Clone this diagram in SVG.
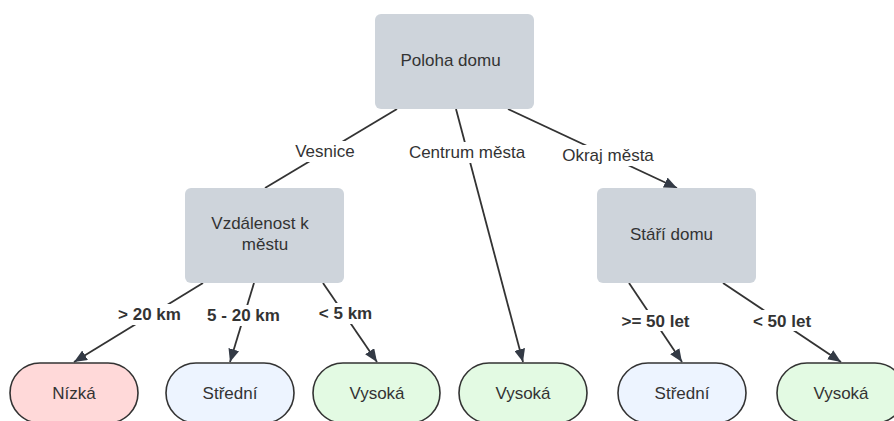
<svg xmlns="http://www.w3.org/2000/svg" width="894" height="421" viewBox="0 0 894 421">
<style>
.box{fill:#ced4db;}
.leaf{stroke:#333;stroke-width:1.6;}
.red{fill:#ffd9d9;}
.blue{fill:#edf4ff;}
.green{fill:#e3fae3;}
text{font-family:"Liberation Sans",Arial,sans-serif;font-size:17px;fill:#333;text-anchor:middle;}
.b{font-weight:bold;}
.edge{stroke:#333;stroke-width:1.8;fill:none;}
.lbg{fill:#fff;}
</style>
<defs>
<marker id="arr" markerUnits="userSpaceOnUse" markerWidth="13" markerHeight="11" refX="13" refY="5.5" orient="auto">
<path d="M0,0 L13,5.5 L0,11 z" fill="#333a45"/>
</marker>
</defs>
<rect width="894" height="421" fill="#fff"/>
<g id="connectors">
<line class="edge" x1="397" y1="109" x2="265" y2="188"/>
<line class="edge" x1="456" y1="109" x2="523" y2="362" marker-end="url(#arr)"/>
<line class="edge" x1="508" y1="109" x2="677" y2="188" marker-end="url(#arr)"/>
<line class="edge" x1="203" y1="283" x2="74" y2="362" marker-end="url(#arr)"/>
<line class="edge" x1="254" y1="283" x2="230" y2="362" marker-end="url(#arr)"/>
<line class="edge" x1="323" y1="283" x2="377" y2="362" marker-end="url(#arr)"/>
<line class="edge" x1="629" y1="283" x2="682" y2="362" marker-end="url(#arr)"/>
<line class="edge" x1="723" y1="283" x2="841" y2="362" marker-end="url(#arr)"/>
<rect class="lbg" x="292" y="141" width="66" height="21"/>
<text x="325" y="157">Vesnice</text>
<rect class="lbg" x="405" y="142" width="124" height="21"/>
<text x="467" y="158">Centrum města</text>
<rect class="lbg" x="558" y="145" width="100" height="21"/>
<text x="608" y="161">Okraj města</text>
<rect class="lbg" x="114" y="304" width="71" height="21"/>
<text class="b" x="149.5" y="320">&gt; 20 km</text>
<rect class="lbg" x="203" y="305" width="81" height="21"/>
<text class="b" x="243.5" y="321">5 - 20 km</text>
<rect class="lbg" x="316" y="303" width="59" height="21"/>
<text class="b" x="345.5" y="319">&lt; 5 km</text>
<rect class="lbg" x="619" y="310" width="73" height="21"/>
<text class="b" x="655.5" y="326.5">&gt;= 50 let</text>
<rect class="lbg" x="750" y="310" width="64" height="21"/>
<text class="b" x="782" y="326.5">&lt; 50 let</text>
</g>
<g id="root">
<rect class="box" x="375" y="14" width="159" height="95" rx="6"/>
<text x="450.5" y="65.5">Poloha domu</text>
</g>
<g id="vzdalenost">
<rect class="box" x="185" y="188" width="159" height="95" rx="6"/>
<text x="260" y="229">Vzdálenost k</text>
<text x="265" y="250">městu</text>
</g>
<g id="stari">
<rect class="box" x="597" y="188" width="159" height="95" rx="6"/>
<text x="671.5" y="239.5">Stáří domu</text>
</g>
<g id="leaf-nizka">
<rect class="leaf red" x="10" y="363" width="128" height="60" rx="30"/>
<text x="74" y="399">Nízká</text>
</g>
<g id="leaf-stredni1">
<rect class="leaf blue" x="166" y="363" width="128" height="60" rx="30"/>
<text x="230" y="399">Střední</text>
</g>
<g id="leaf-vysoka1">
<rect class="leaf green" x="313" y="363" width="127" height="60" rx="30"/>
<text x="377" y="399">Vysoká</text>
</g>
<g id="leaf-vysoka2">
<rect class="leaf green" x="459" y="363" width="128" height="60" rx="30"/>
<text x="523" y="399">Vysoká</text>
</g>
<g id="leaf-stredni2">
<rect class="leaf blue" x="618" y="363" width="128" height="60" rx="30"/>
<text x="682" y="399">Střední</text>
</g>
<g id="leaf-vysoka3">
<rect class="leaf green" x="777" y="363" width="128" height="60" rx="30"/>
<text x="841" y="399">Vysoká</text>
</g>
</svg>
